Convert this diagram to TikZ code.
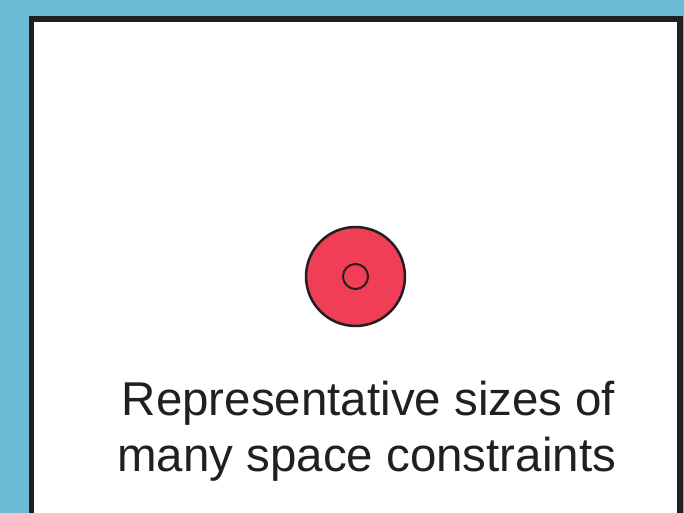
\documentclass[tikz,border=0pt]{standalone}
\usepackage{fontspec}
\setmainfont{Liberation Sans}

\definecolor{skyblue}{HTML}{6DBAD6}
\definecolor{dotred}{HTML}{EF3E55}
\definecolor{inkdark}{HTML}{231F20}

\tikzset{
  frameline/.style={line width=3.8pt, draw=inkdark},
  caption/.style={anchor=base, text=inkdark, font=\fontsize{35.6}{41}\selectfont, inner sep=0pt}
}

\begin{document}
\begin{tikzpicture}[x=0.75pt, y=-0.75pt]

  \fill[skyblue] (0,0) rectangle (684,513);
  \useasboundingbox (0,0) rectangle (684,513);

  % Frame
  \begin{scope}
    \clip (0,0) rectangle (684,513);
    \filldraw[frameline, fill=white] (31.5,19) rectangle (680,540);
  \end{scope}

  \coordinate (O) at (355.5,276.5);

  % Dot
  \filldraw[fill=dotred, draw=inkdark, line width=1.9pt] (O) circle (37.1pt);
  \draw[inkdark, line width=1.5pt] (O) circle (9.4pt);

  \node[caption] (line1) at (368.6,415.5) {Representative sizes of};
  \node[caption] (line2) at (366.7,471) {many space constraints};

\end{tikzpicture}
\end{document}
